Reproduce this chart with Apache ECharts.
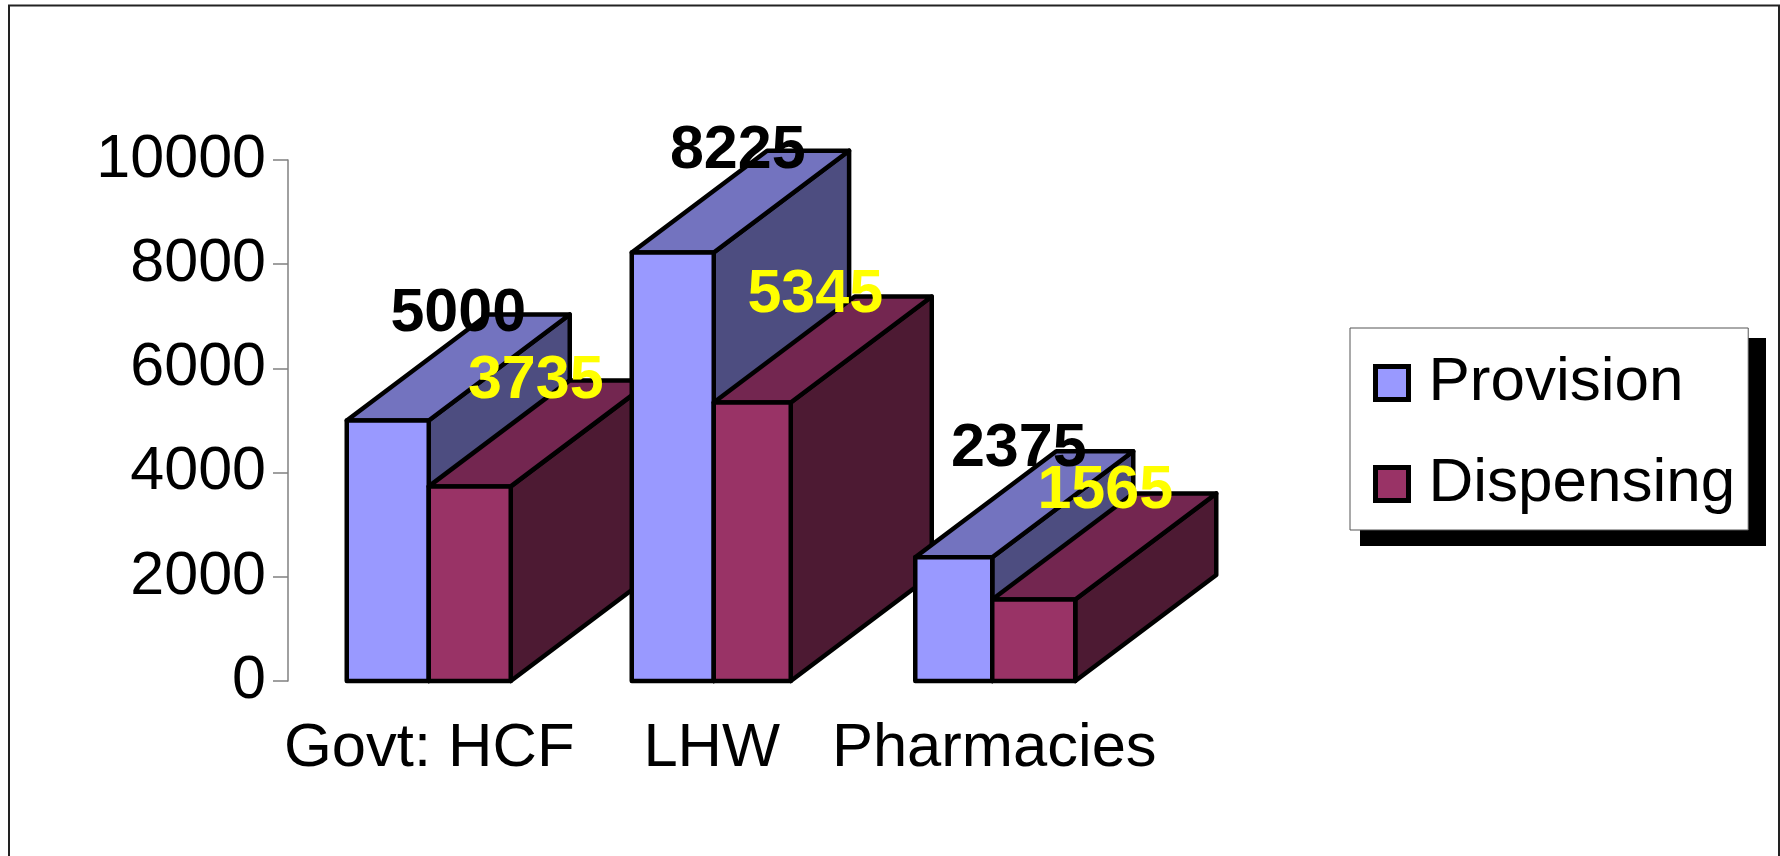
<!DOCTYPE html>
<html>
<head>
<meta charset="utf-8">
<style>html,body{margin:0;padding:0;background:#fff}#chart{width:1780px;height:856px}</style>
<script src="https://cdn.jsdelivr.net/npm/echarts@6/dist/echarts.min.js"></script>
</head>
<body>
<div id="chart"></div>
<script>
const categories = ['Govt: HCF', 'LHW', 'Pharmacies'];
const provision = [5000, 8225, 2375];
const dispensing = [3735, 5345, 1565];
const yTicks = { min: 0, max: 10000, interval: 2000 };

const FONT = '"Liberation Sans", Arial, sans-serif';
const DEPTH_X = 141;           // oblique extrusion of each block
const DEPTH_Y = 106;
const LHW_PROVISION_DEPTH = 0.96; // the tall block recedes slightly less

// Block widths per series and the seam's drift from each band centre, in px.
const blockWidths = [[82, 82, 77], [82, 77, 83]];
const seamDrift = [-0.5, 2, -2];
// Hand placement of the value labels, per series then per category: [dx, dy] in px.
const labelShift = [
  [[70.5, -106], [65, -101], [65, -108]],
  [[66, -105], [63, -107], [71.5, -108]]
];

const palette = {
  Provision: { front: '#9999FF', top: '#7373BF', side: '#4D4D80', label: '#000000' },
  Dispensing: { front: '#993366', top: '#732650', side: '#4D1A33', label: '#FFFF00' }
};

// Oblique 3D block: side, top, then front, with the value label floating above.
function makeRenderer(name, seriesOrder) {
  const c = palette[name];
  return function (params, api) {
    const cat = api.value(0), val = api.value(1);
    const [cx, yTop] = api.coord([cat, val]);
    const yBase = api.coord([cat, 0])[1];
    const w = blockWidths[seriesOrder][cat];
    const seam = cx + seamDrift[cat];
    const x0 = seriesOrder === 0 ? seam - w : seam;
    const x1 = x0 + w;
    const k = (seriesOrder === 0 && cat === 1) ? LHW_PROVISION_DEPTH : 1;
    const dx = DEPTH_X * k, dy = DEPTH_Y * k;
    const order = cat * 10 + seriesOrder * 4;
    const shift = labelShift[seriesOrder][cat];
    const face = (points, fill, z2) => ({
      type: 'polygon',
      shape: { points },
      z2,
      style: { fill, stroke: '#000', lineWidth: 4.5, lineJoin: 'round' }
    });
    return {
      type: 'group',
      children: [
        face([[x1, yTop], [x1 + dx, yTop - dy], [x1 + dx, yBase - dy], [x1, yBase]], c.side, order),
        face([[x0, yTop], [x0 + dx, yTop - dy], [x1 + dx, yTop - dy], [x1, yTop]], c.top, order + 1),
        face([[x0, yTop], [x1, yTop], [x1, yBase], [x0, yBase]], c.front, order + 2),
        {
          type: 'text',
          z2: 100 + seriesOrder,
          style: {
            text: String(val),
            x: (x0 + x1) / 2 + shift[0],
            y: yTop + shift[1],
            fill: c.label,
            font: 'bold 61px ' + FONT,
            align: 'center',
            verticalAlign: 'middle'
          }
        }
      ]
    };
  };
}

function blockSeries(name, values, seriesOrder) {
  return {
    type: 'custom',
    name,
    renderItem: makeRenderer(name, seriesOrder),
    encode: { x: 0, y: 1 },
    itemStyle: { color: palette[name].front },
    data: values.map((v, i) => [i, v])
  };
}

const chart = echarts.init(document.getElementById('chart'), null, { renderer: 'canvas' });
chart.setOption({
  animation: false,
  backgroundColor: '#ffffff',
  grid: { left: 288, top: 160, width: 847.5, height: 521, containLabel: false },
  xAxis: {
    type: 'category',
    data: categories,
    axisLine: { show: false },
    axisTick: { show: false },
    axisLabel: {
      interval: 0, margin: 37, color: '#000',
      fontFamily: FONT, fontSize: 61.5
    }
  },
  yAxis: {
    type: 'value',
    min: yTicks.min, max: yTicks.max, interval: yTicks.interval,
    splitLine: { show: false },
    axisLine: { show: true, lineStyle: { color: '#808080', width: 1.5 } },
    axisTick: { show: true, length: 15, lineStyle: { color: '#808080', width: 1.5 } },
    axisLabel: {
      margin: 22, color: '#000', fontFamily: FONT, fontSize: 61,
      formatter: (v) => String(v)
    }
  },
  legend: {
    left: 1350, top: 328,
    orient: 'vertical',
    icon: 'rect',
    itemWidth: 33, itemHeight: 33,
    itemGap: 39,
    align: 'left',
    padding: [24, 13, 15, 23],
    backgroundColor: '#fff',
    borderColor: '#555',
    borderWidth: 1,
    borderRadius: 0,
    z: 5,
    selectedMode: false,
    itemStyle: { borderColor: '#000', borderWidth: 5 },
    textStyle: { color: '#000', fontFamily: FONT, fontSize: 62, lineHeight: 62, padding: [0, 0, 0, 15] },
    data: ['Provision', 'Dispensing']
  },
  graphic: [
    // hard drop shadow behind the legend box
    { type: 'rect', z: 1, shape: { x: 1360, y: 338, width: 406, height: 208 }, style: { fill: '#000' } },
    // chart-area frame, open along the bottom
    { type: 'polyline', z: 1, shape: { points: [[9, 856], [9, 5.5], [1779, 5.5], [1779, 856]] },
      style: { fill: null, stroke: '#222', lineWidth: 2 } }
  ],
  series: [blockSeries('Provision', provision, 0), blockSeries('Dispensing', dispensing, 1)]
});
</script>
</body>
</html>
